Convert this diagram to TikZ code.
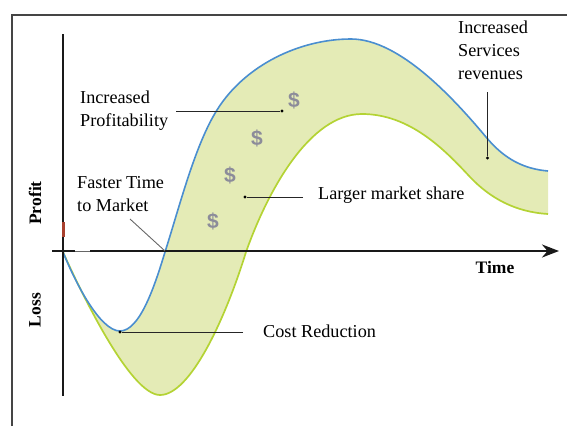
\documentclass[tikz,border=0pt]{standalone}
\usepackage{fontspec}
\setmainfont{Liberation Serif}
\newfontfamily\dollarfont{Liberation Sans}
\usetikzlibrary{arrows.meta}
\definecolor{bandfill}{HTML}{E4EBB6}
\definecolor{bandblue}{HTML}{4A8ED0}
\definecolor{bandgreen}{HTML}{B4D334}
\definecolor{framegray}{HTML}{454545}
\definecolor{dollargray}{HTML}{8C8C9A}
\definecolor{markred}{HTML}{A8402E}
\tikzset{
  lbl/.style={anchor=west, inner sep=0pt, align=left, font=\fontsize{18.2}{22.8}\selectfont},
  axislbl/.style={inner sep=0pt, font=\fontsize{17.5}{20}\selectfont\bfseries},
  dollar/.style={inner sep=0pt, text=dollargray, font=\dollarfont\fontsize{21}{21}\selectfont\bfseries},
  pointer/.style={draw=black!85, line width=0.9pt},
  ptdot/.style={circle, fill=black, inner sep=0pt, minimum size=3.2pt},
  axisline/.style={draw=black!90, line width=2.4pt},
}
\def\bluepath{(63,252) .. controls (75,282) and (100,331) .. (120,331)
  .. controls (140,331) and (155,285) .. (165,252)
  .. controls (180,205) and (195,145) .. (217,110)
  .. controls (245,65) and (300,39) .. (351,39)
  .. controls (400,39) and (455,100) .. (486,137)
  .. controls (505,160) and (525,169) .. (548,171)}
\def\greenpath{(548,214) .. controls (515,212) and (490,198) .. (470,177)
  .. controls (445,150) and (410,114) .. (362,114)
  .. controls (310,114) and (268,190) .. (246,252)
  .. controls (225,320) and (190,395) .. (160,395)
  .. controls (130,395) and (80,290) .. (63,252)}
\begin{document}
\begin{tikzpicture}[x=1pt,y=-1pt]
\useasboundingbox (0,0) rectangle (567,426);
% frame
\draw[framegray, line width=1.6pt] (12,426) -- (12,15) -- (567,15);
% band
\fill[bandfill] \bluepath -- \greenpath -- cycle;
\draw[bandgreen, line width=1.7pt] \greenpath;
\draw[bandblue, line width=1.6pt] \bluepath;
% axes
\coordinate (yTop) at (63,34);
\coordinate (yBot) at (63,396);
\coordinate (xL) at (52,251);
\coordinate (xG1) at (75,251);
\coordinate (xG2) at (90,251);
\coordinate (xR) at (559,251);
\draw[axisline] (yTop) -- (yBot);
\draw[axisline] (xL) -- (xG1);
\draw[black!60, line width=1pt] (xG1) -- (xG2);
\draw[axisline, -{Stealth[length=17pt,width=13pt]}] (xG2) -- (xR);
\fill[markred] (61.5,222) rectangle (64.5,237);
% axis labels
\node[axislbl] (time) at (495,268) {Time};
\node[axislbl, rotate=90] (profit) at (35,203) {Profit};
\node[axislbl, rotate=90] (loss) at (35,310) {Loss};
% dollars
\node[dollar] (d1) at (294,100) {\$};
\node[dollar] (d2) at (257,138) {\$};
\node[dollar] (d3) at (230,175) {\$};
\node[dollar] (d4) at (213,221) {\$};
% labels
\node[lbl] (prof) at (80,111) {Increased\\Profitability};
\node[lbl] (fast) at (77,194) {Faster Time\\to Market};
\node[lbl] (serv) at (458,50) {Increased\\Services\\revenues};
\node[lbl] (share) at (318,195) {Larger market share};
\node[lbl] (cost) at (263,331) {Cost Reduction};
% pointers
\coordinate (p1s) at (176,111);
\node[ptdot] (p1e) at (282,111) {};
\draw[pointer] (p1s) -- (p1e);
\coordinate (p2s) at (130,219);
\coordinate (p2e) at (165,251);
\draw[black!60, line width=0.9pt] (p2s) -- (p2e);
\coordinate (p3s) at (303,197);
\node[ptdot] (p3e) at (245,197) {};
\draw[pointer] (p3s) -- (p3e);
\coordinate (p4s) at (243,332);
\node[ptdot] (p4e) at (120,332) {};
\draw[pointer] (p4s) -- (p4e);
\coordinate (p5s) at (487.5,92);
\node[ptdot] (p5e) at (487.5,158) {};
\draw[pointer] (p5s) -- (p5e);
\end{tikzpicture}
\end{document}
